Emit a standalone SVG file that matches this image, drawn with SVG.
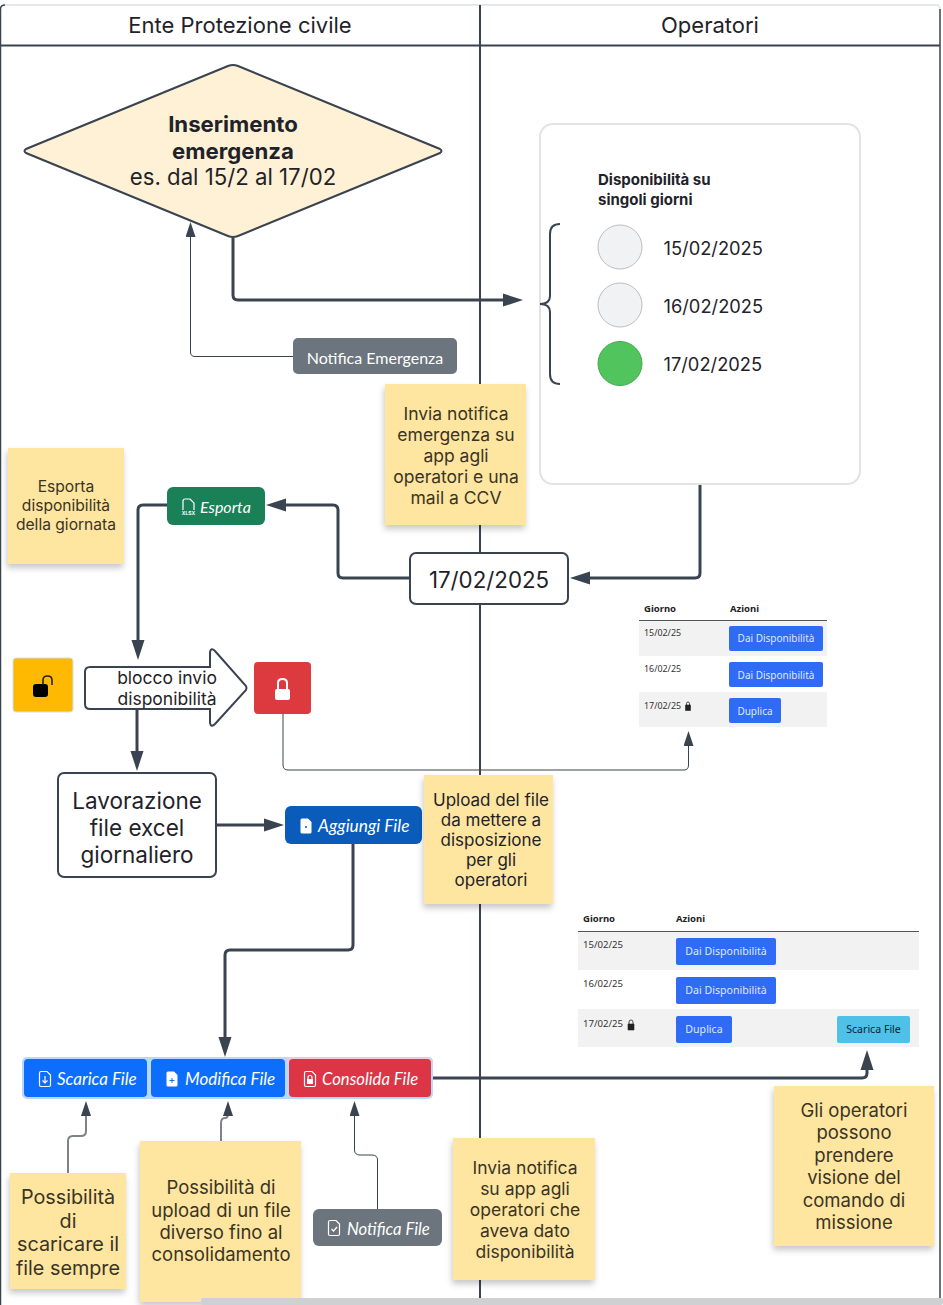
<svg xmlns="http://www.w3.org/2000/svg" width="943" height="1305" viewBox="0 0 943 1305">
<style>
text{font-family:Inter,"Liberation Sans",sans-serif;fill:#1f2329}
.c{text-anchor:middle}
.frame{fill:none;stroke:#3a4350;stroke-width:2}
.thick{fill:none;stroke:#3a4350;stroke-width:3;marker-end:url(#ah)}
.thin{fill:none;stroke:#3a4350;stroke-width:1;marker-end:url(#as)}
.grey{fill:none;stroke:#7f8287;stroke-width:2;marker-end:url(#as)}
.box{fill:#fff;stroke:#3a4350;stroke-width:2}
.sticky{fill:#fee5a0;filter:url(#sh)}
.st{fill:#3a3424}
.btn{font-family:Lato,"Liberation Sans",sans-serif;font-style:italic;font-size:17px;fill:#fff}
.tb{font-family:"Noto Sans","Liberation Sans",sans-serif;font-size:8.900px;fill:#333}
.tb2{font-family:"Noto Sans","Liberation Sans",sans-serif;font-size:9.600px;fill:#333}
.tbh{font-family:"Noto Sans","Liberation Sans",sans-serif;font-size:9.500px;font-weight:700;fill:#222}
.bl{fill:#2f6bf5}
.bt{font-family:"Noto Sans","Liberation Sans",sans-serif;font-size:10px;fill:#dfe8ff}
.bt2{font-family:"Noto Sans","Liberation Sans",sans-serif;font-size:10.600px;fill:#dfe8ff}
.ic{fill:none;stroke:#fff;stroke-width:1.200}
</style>
<defs>
<marker id="ah" markerUnits="userSpaceOnUse" markerWidth="20" markerHeight="14" refX="5" refY="7" orient="auto"><path d="M0,.5 L20,7 L0,13.500z" fill="#3a4350"/></marker>
<marker id="as" markerUnits="userSpaceOnUse" markerWidth="15" markerHeight="10" refX="3" refY="5" orient="auto"><path d="M0,0 L15,5 L0,10z" fill="#3a4350"/></marker>
<filter id="sh" x="-15%" y="-15%" width="130%" height="130%"><feDropShadow dx="-1" dy="4" stdDeviation="3" flood-color="#000" flood-opacity=".22"/></filter>
<path id="file" d="M-4,-7.500 H2 L5.500,-4 V6 Q5.500,7.500 4,7.500 H-4 Q-5.500,7.500 -5.500,6 V-6 Q-5.500,-7.500 -4,-7.500z"/>
</defs>
<rect width="943" height="1305" fill="#fff"/>
<g id="frame">
<path d="M0.500,1305 V9 Q0.500,5 5,5" class="frame" style="stroke-width:1.500"/>
<path d="M940,9 V1305" class="frame" style="stroke-width:1.500"/>
<path d="M5,5 H936 Q940,5 940,9" fill="none" stroke="#dfe1e4" stroke-width="1.500"/>
<path d="M0,45.500 H940" class="frame"/>
<path d="M480,5 V1305" class="frame"/>
<text x="240" y="33" class="c" font-size="22">Ente Protezione civile</text>
<text x="710" y="33" class="c" font-size="22">Operatori</text>
</g>
<g id="connectors">
<path class="thick" d="M233,238 V295 Q233,300 238,300 H508"/>
<path class="thin" d="M293,356.500 H195 Q190.500,356.500 190.500,352 V234"/>
<path class="thick" d="M700,484 V573 Q700,578 695,578 H585"/>
<path class="thick" d="M410,578 H343 Q338,578 338,573 V510 Q338,505 333,505 H281"/>
<path class="thick" d="M167,505 H143 Q138,505 138,510 V645"/>
<path class="thick" d="M137,709 V756"/>
<path class="thick" d="M217,825 H269"/>
<path class="thick" d="M353,844 V945 Q353,950 348,950 H230 Q225,950 225,955 V1042"/>
<path class="thin" d="M283,714 V765 Q283,770 288,770 H684 Q688.500,770 688.500,765 V743"/>
<path class="thick" d="M433,1078 H862 Q867,1078 867,1073 V1065"/>
<path class="grey" d="M68,1173 V1141 Q68,1136 73,1136 H81 Q86,1136 86,1131 V1113"/>
<path class="grey" d="M221,1141 V1123 Q221,1118 225,1118 Q228,1118 228,1114 V1113"/>
<path class="thin" d="M377.500,1209 V1160 Q377.500,1155 372,1155 H360 Q354.500,1155 354.500,1150 V1113"/>
</g>
<g id="emergenza">
<path d="M228,66 Q233,64 238,66 L440,149 Q443,151 440,153 L238,236 Q233,238 228,236 L26,153 Q23,151 26,149z" fill="#fff1d6" stroke="#3a4350" stroke-width="2"/>
<text x="233" y="132" class="c" font-size="22.200" font-weight="700" fill="#111">Inserimento</text>
<text x="233" y="159" class="c" font-size="22.200" font-weight="700" fill="#111">emergenza</text>
<text x="233" y="185" class="c" font-size="22.200">es. dal 15/2 al 17/02</text>
</g>
<g id="notifica-emergenza">
<rect x="293" y="338" width="164" height="36" rx="5" fill="#6c757d"/>
<text x="375" y="364" class="c" style="font-family:Lato,'Liberation Sans',sans-serif;fill:#fff" font-size="16">Notifica Emergenza</text>
</g>
<g id="card">
<rect x="540" y="124" width="320" height="360" rx="13" fill="#fff" stroke="#e3e3e3" stroke-width="2"/>
<text x="598" y="185" font-size="15" font-weight="700" fill="#111">Disponibilità su</text>
<text x="598" y="205" font-size="15" font-weight="700" fill="#111">singoli giorni</text>
<path d="M560,224 Q550,224 550,234 V296 Q550,304 540,304 Q550,304 550,312 V374 Q550,384 560,384" fill="none" stroke="#3a4350" stroke-width="2"/>
<circle cx="620" cy="247" r="22" fill="#f1f2f4" stroke="#bdbdbd"/>
<circle cx="620" cy="305" r="22" fill="#f1f2f4" stroke="#bdbdbd"/>
<circle cx="620" cy="363.500" r="22" fill="#52c45e" stroke="#45a850"/>
<text x="663.500" y="255" font-size="18.300">15/02/2025</text>
<text x="663.500" y="313" font-size="18.300">16/02/2025</text>
<text x="663.500" y="371" font-size="18.300">17/02/2025</text>
</g>
<g id="note-invia-emergenza">
<rect class="sticky" x="385" y="384" width="141" height="141"/>
<text class="c st" x="456" y="419.500" font-size="17.500">Invia notifica</text><text class="c st" x="456" y="440.500" font-size="17.500">emergenza su</text><text class="c st" x="456" y="461.500" font-size="17.500">app agli</text><text class="c st" x="456" y="482.500" font-size="17.500">operatori e una</text><text class="c st" x="456" y="503.500" font-size="17.500">mail a CCV</text>
</g>
<g id="note-esporta">
<rect class="sticky" x="8" y="448" width="116" height="116"/>
<text class="c st" x="66" y="492" font-size="15.600">Esporta</text><text class="c st" x="66" y="511" font-size="15.600">disponibilità</text><text class="c st" x="66" y="530" font-size="15.600">della giornata</text>
</g>
<g id="esporta">
<rect x="167" y="487" width="98" height="38" rx="6" fill="#1a8058"/>
<path d="M183,510 V501 Q183,499 185,499 H190 L194,503 V510" class="ic"/>
<text x="188.500" y="514.500" class="c" font-size="5" font-weight="700" style="fill:#fff">XLSX</text>
<text class="btn" x="200" y="513" style="font-size:16px">Esporta</text>
</g>
<g id="date-box">
<rect class="box" x="410" y="553" width="158" height="51" rx="6"/>
<text x="489" y="588" class="c" font-size="22.300">17/02/2025</text>
</g>
<g id="table-1">
<path d="M639,620.500 H827" stroke="#555" stroke-width="1"/>
<rect x="639" y="621" width="188" height="35" fill="#f2f2f2"/>
<rect x="639" y="692" width="188" height="35" fill="#f2f2f2"/>
<text class="tbh" x="644" y="612">Giorno</text><text class="tbh" x="730" y="612">Azioni</text>
<text class="tb" x="644" y="636">15/02/25</text><text class="tb" x="644" y="672">16/02/25</text><text class="tb" x="644" y="709">17/02/25</text>
<path d="M685.500,705 h5 v5.500 h-5z" fill="#222" stroke="#222" stroke-width=".6"/><path d="M686.500,705 v-1.500 a1.500,1.500 0 0 1 3,0 v1.500" fill="none" stroke="#222" stroke-width=".8"/>
<rect class="bl" x="729" y="626" width="94" height="25" rx="2"/><text class="c bt" x="776" y="642">Dai Disponibilità</text>
<rect class="bl" x="729" y="662" width="94" height="25" rx="2"/><text class="c bt" x="776" y="679">Dai Disponibilità</text>
<rect class="bl" x="729" y="698" width="52" height="25" rx="2"/><text class="c bt" x="755" y="715">Duplica</text>
</g>
<g id="lock-open">
<rect x="13" y="658" width="60" height="54" rx="3" fill="#ffb900" stroke="#cfe0ea" stroke-width="1"/>
<rect x="33" y="684" width="15" height="13" rx="3" fill="#000"/>
<path d="M43,685 V680 Q43,676 47.500,676 Q52,676 52,680 V685" fill="none" stroke="#222" stroke-width="1.600"/>
</g>
<g id="blocco">
<path d="M90,667 H210 V652 Q211,647 215,651 L246,686 Q247,688 246,690 L215,724 Q211,728 210,723 V709 H90 Q85,709 85,704 V672 Q85,667 90,667z" fill="#fff" stroke="#3a4350" stroke-width="2"/>
<text x="167" y="684" class="c" font-size="17.500">blocco invio</text>
<text x="167" y="705" class="c" font-size="17.500">disponibilità</text>
</g>
<g id="lock-closed">
<rect x="254" y="662" width="57" height="52" rx="4" fill="#dd3a3f"/>
<rect x="275" y="689" width="15" height="11" rx="2" fill="#fff"/>
<path d="M278,690 V683 Q278,679 282.500,679 Q287,679 287,683 V690" fill="none" stroke="#fff" stroke-width="2"/>
</g>
<g id="lavorazione">
<rect class="box" x="58" y="773" width="158" height="104" rx="6"/>
<text x="137" y="809" class="c" font-size="22.500">Lavorazione</text>
<text x="137" y="836" class="c" font-size="22.500">file excel</text>
<text x="137" y="863" class="c" font-size="22.500">giornaliero</text>
</g>
<g id="aggiungi">
<rect x="285" y="806" width="137" height="38" rx="6" fill="#0b5cba"/>
<use href="#file" x="306" y="826" fill="#fff"/>
<circle cx="306" cy="827" r="1" fill="#0b5cba"/>
<text class="btn" x="318" y="832" style="font-size:17.300px">Aggiungi File</text>
</g>
<g id="note-upload">
<rect class="sticky" x="424" y="775" width="129" height="129"/>
<text class="c" x="491" y="806" font-size="17" fill="#555">Upload del file</text><text class="c" x="491" y="826" font-size="17" fill="#555">da mettere a</text><text class="c" x="491" y="846" font-size="17" fill="#555">disposizione</text><text class="c" x="491" y="866" font-size="17" fill="#555">per gli</text><text class="c" x="491" y="886" font-size="17" fill="#555">operatori</text>
</g>
<g id="table-2">
<path d="M578,931.500 H919" stroke="#555" stroke-width="1"/>
<rect x="578" y="932" width="341" height="38" fill="#f2f2f2"/>
<rect x="578" y="1009" width="341" height="38" fill="#f2f2f2"/>
<text class="tbh" x="583" y="922">Giorno</text><text class="tbh" x="676" y="922">Azioni</text>
<text class="tb2" x="583" y="948">15/02/25</text><text class="tb2" x="583" y="987">16/02/25</text><text class="tb2" x="583" y="1027">17/02/25</text>
<path d="M628,1024 h6 v6 h-6z" fill="#222" stroke="#222" stroke-width=".6"/><path d="M629,1024 v-2 a2,2 0 0 1 4,0 v2" fill="none" stroke="#222" stroke-width=".8"/>
<rect class="bl" x="676" y="938" width="100" height="27" rx="2"/><text class="c bt2" x="726" y="955">Dai Disponibilità</text>
<rect class="bl" x="676" y="977" width="100" height="27" rx="2"/><text class="c bt2" x="726" y="994">Dai Disponibilità</text>
<rect class="bl" x="676" y="1016" width="56" height="27" rx="2"/><text class="c bt2" x="704" y="1033">Duplica</text>
<rect x="837" y="1016" width="73" height="27" rx="2" fill="#4fc0e8"/><text class="c bt2" x="873.500" y="1033" style="fill:#123">Scarica File</text>
</g>
<g id="file-actions">
<rect x="22" y="1057" width="411" height="42" rx="5" fill="#b9d8fb"/>
<path d="M287,1057 H428 Q433,1057 433,1062 V1064 H287z" fill="#ecc9dc"/>
<g id="scarica">
<rect x="24" y="1059" width="123" height="38" rx="4" fill="#0d6efd"/>
<use href="#file" x="45" y="1079" class="ic"/>
<path d="M45,1076 V1083 M42.500,1080.500 L45,1083 L47.500,1080.500" class="ic"/>
<text class="btn" x="57" y="1085">Scarica File</text>
</g>
<g id="modifica">
<rect x="151" y="1059" width="134" height="38" rx="4" fill="#0d6efd"/>
<use href="#file" x="172" y="1079" fill="#fff"/>
<path d="M172,1078 V1083 M169.500,1080.500 H174.500" stroke="#0d6efd" stroke-width="1"/>
<text class="btn" x="185" y="1085">Modifica File</text>
</g>
<g id="consolida">
<rect x="289" y="1059" width="142" height="38" rx="4" fill="#dc3545"/>
<use href="#file" x="310" y="1079" class="ic"/>
<rect x="307" y="1079" width="6" height="5" fill="#fff"/><path d="M308,1079 V1077.500 a2,2 0 0 1 4,0 V1079" class="ic"/>
<text class="btn" x="322" y="1085" style="font-size:16.700px">Consolida File</text>
</g>
</g>
<g id="notifica-file">
<rect x="313" y="1209" width="129" height="37" rx="6" fill="#6c757d"/>
<use href="#file" x="334" y="1228" class="ic"/>
<path d="M331.500,1229 L333.500,1231 L337,1227" class="ic"/>
<text class="btn" x="347" y="1235" style="font-size:16.700px">Notifica File</text>
</g>
<g id="note-scaricare">
<rect class="sticky" x="10" y="1173" width="116" height="116"/>
<text class="c st" x="68" y="1204" font-size="19.800">Possibilità</text><text class="c st" x="68" y="1228" font-size="19.800">di</text><text class="c st" x="68" y="1251" font-size="19.800">scaricare il</text><text class="c st" x="68" y="1275" font-size="19.800">file sempre</text>
</g>
<g id="note-modifica">
<rect class="sticky" x="140" y="1141" width="161" height="161"/>
<text class="c st" x="221" y="1194" font-size="18.500">Possibilità di</text><text class="c st" x="221" y="1216.500" font-size="18.500">upload di un file</text><text class="c st" x="221" y="1239" font-size="18.500">diverso fino al</text><text class="c st" x="221" y="1261" font-size="18.500">consolidamento</text>
</g>
<g id="note-invia-file">
<rect class="sticky" x="453" y="1138" width="142" height="142"/>
<text class="c st" x="525" y="1174" font-size="17.500">Invia notifica</text><text class="c st" x="525" y="1195" font-size="17.500">su app agli</text><text class="c st" x="525" y="1216" font-size="17.500">operatori che</text><text class="c st" x="525" y="1237" font-size="17.500">aveva dato</text><text class="c st" x="525" y="1258" font-size="17.500">disponibilità</text>
</g>
<g id="note-operatori">
<rect class="sticky" x="774" y="1086" width="160" height="160"/>
<text class="c st" x="854" y="1117" font-size="18.500">Gli operatori</text><text class="c st" x="854" y="1139" font-size="18.500">possono</text><text class="c st" x="854" y="1162" font-size="18.500">prendere</text><text class="c st" x="854" y="1184" font-size="18.500">visione del</text><text class="c st" x="854" y="1207" font-size="18.500">comando di</text><text class="c st" x="854" y="1229" font-size="18.500">missione</text>
</g>
<rect x="201" y="1298" width="742" height="7" rx="2" fill="#cdd1d4"/>
</svg>
